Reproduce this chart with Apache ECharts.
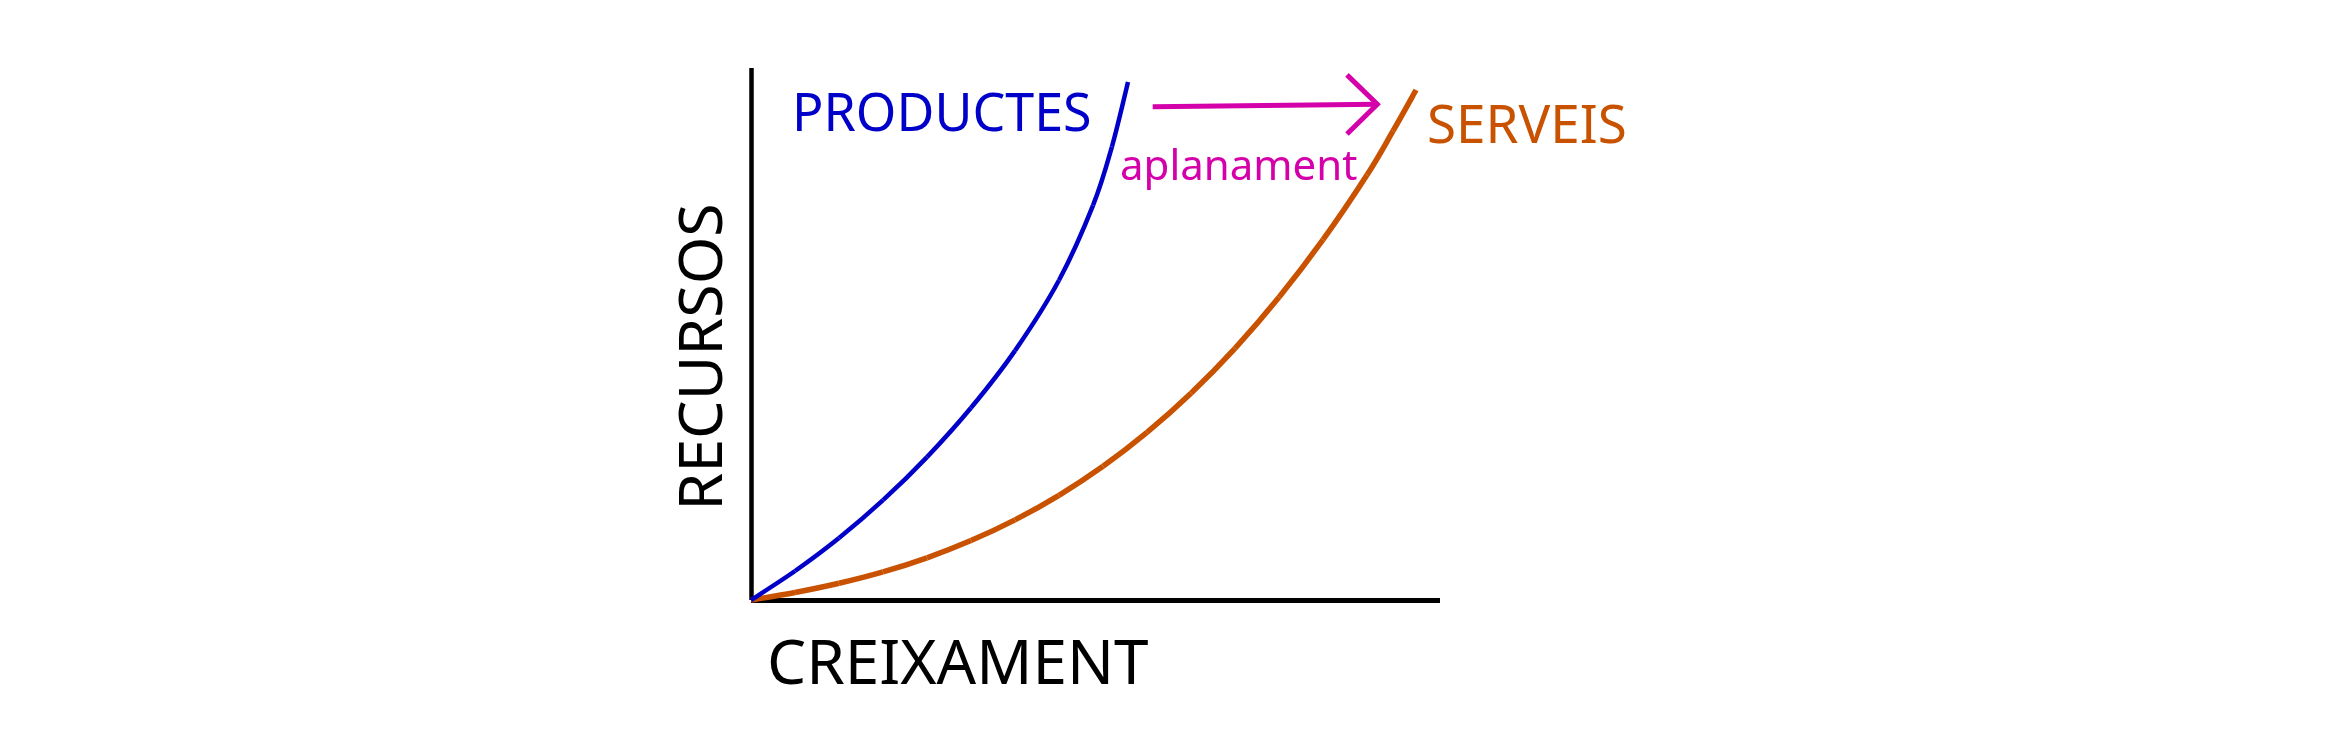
<!DOCTYPE html>
<html>
<head>
<meta charset="utf-8">
<script src="https://cdn.jsdelivr.net/npm/echarts@6/dist/echarts.min.js"></script>
<style>html,body{margin:0;padding:0;background:#fff;}#c{width:2350px;height:752px;}</style>
</head>
<body>
<div id="c"></div>
<script>
// Curve samples (x = growth, y = resources)
const productesX = [0, 6.39, 12.77, 19.16, 25.54, 31.93, 38.32, 44.70, 49.64, 52.39, 54.72];
const productesY = [0, 5.45, 11.65, 18.76, 26.86, 36.13, 46.88, 60.11, 74.17, 85.24, 97.37];
const serveisX = [0, 6.39, 12.77, 19.16, 25.54, 31.93, 38.32, 44.70, 51.09, 57.47, 63.86, 70.25, 76.63, 83.02, 89.40, 93.18, 96.52];
const serveisY = [0, 1.41, 3.14, 5.28, 7.93, 11.17, 15.06, 19.68, 25.13, 31.50, 38.87, 47.31, 56.90, 67.73, 79.89, 88.16, 95.86];
// "aplanament" arrow, in data units
const arrowShaftX = [58.3, 90.9];
const arrowShaftY = [92.7, 93.2];
const arrowHeadX = [86.5, 90.9, 86.5];
const arrowHeadY = [98.7, 93.2, 87.6];
// Text labels
const labelProductes = 'PRODUCTES';
const labelServeis = 'SERVEIS';
const labelAplanament = 'aplanament';
const labelX = 'CREIXAMENT';
const labelY = 'RECURSOS';

const zip = (xs, ys) => xs.map((x, i) => [x, ys[i]]);
const FONT = '"Noto Sans", "Open Sans", sans-serif';
const BLUE = '#0000c8', ORANGE = '#c85200', MAGENTA = '#d400aa';

// Smooth curve through the data points (Catmull-Rom), positioned by the chart's own axes
function curveSeries(xs, ys, color, width) {
  return {
    type: 'custom',
    coordinateSystem: 'cartesian2d',
    data: zip(xs, ys).slice(0, 1),
    clip: false,
    renderItem: function (params, api) {
      const pts = xs.map((x, i) => api.coord([x, ys[i]]));
      const n = pts.length;
      const children = [];
      for (let i = 0; i < n - 1; i++) {
        const p0 = pts[Math.max(i - 1, 0)], p1 = pts[i], p2 = pts[i + 1], p3 = pts[Math.min(i + 2, n - 1)];
        children.push({
          type: 'bezierCurve',
          shape: {
            x1: p1[0], y1: p1[1], x2: p2[0], y2: p2[1],
            cpx1: p1[0] + (p2[0] - p0[0]) / 6, cpy1: p1[1] + (p2[1] - p0[1]) / 6,
            cpx2: p2[0] - (p3[0] - p1[0]) / 6, cpy2: p2[1] - (p3[1] - p1[1]) / 6
          },
          style: {stroke: color, lineWidth: width, fill: null, lineCap: 'butt'}
        });
      }
      return {type: 'group', children: children};
    }
  };
}

const chart = echarts.init(document.getElementById('c'), null, {renderer: 'canvas'});
chart.setOption({
  animation: false,
  backgroundColor: '#fff',
  grid: {left: 751, top: 68, width: 689, height: 532},
  xAxis: {
    type: 'value', min: 0, max: 100,
    axisLine: {show: true, lineStyle: {color: '#000', width: 5, cap: 'butt'}},
    axisTick: {show: false}, axisLabel: {show: false}, splitLine: {show: false}
  },
  yAxis: {
    type: 'value', min: 0, max: 100,
    axisLine: {show: true, lineStyle: {color: '#000', width: 4.5, cap: 'butt'}},
    axisTick: {show: false}, axisLabel: {show: false}, splitLine: {show: false}
  },
  series: [
    curveSeries(serveisX, serveisY, ORANGE, 5.5),
    curveSeries(productesX, productesY, BLUE, 4.5),
    {type: 'line', data: zip(arrowShaftX, arrowShaftY), symbol: 'none', clip: false,
     lineStyle: {color: MAGENTA, width: 5}},
    {type: 'line', data: zip(arrowHeadX, arrowHeadY), symbol: 'none', clip: false,
     lineStyle: {color: MAGENTA, width: 5, join: 'miter'}}
  ],
  graphic: [
    {type: 'text', x: 792, y: 116, style: {text: labelProductes, fill: BLUE, font: '52px ' + FONT, align: 'left', verticalAlign: 'middle'}},
    {type: 'text', x: 1427, y: 128, style: {text: labelServeis, fill: ORANGE, font: '53px ' + FONT, align: 'left', verticalAlign: 'middle'}},
    {type: 'text', x: 1120, y: 168, style: {text: labelAplanament, fill: MAGENTA, font: '42px ' + FONT, align: 'left', verticalAlign: 'middle'}},
    {type: 'text', x: 767, y: 666, style: {text: labelX, fill: '#000', font: '62px ' + FONT, align: 'left', verticalAlign: 'middle'}},
    {type: 'text', x: 705, y: 357, rotation: Math.PI / 2, style: {text: labelY, fill: '#000', font: '61px ' + FONT, align: 'center', verticalAlign: 'middle'}}
  ]
});
</script>
</body>
</html>
